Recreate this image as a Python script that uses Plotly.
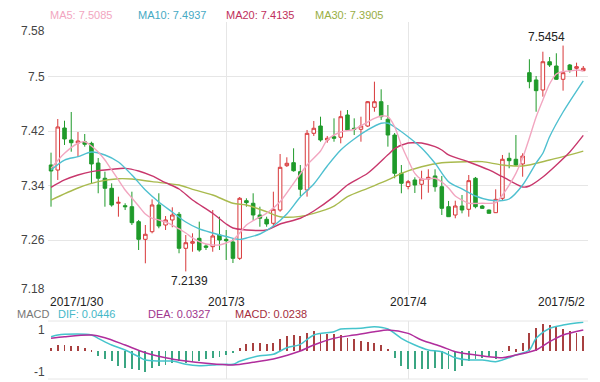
import plotly.graph_objects as go

# ---------------- data ----------------
idx = list(range(80))
tick_idx = [0, 26, 53, 79]
tick_text = ["2017/1/30", "2017/3", "2017/4", "2017/5/2"]
price_ticks = [7.18, 7.26, 7.34, 7.42, 7.5, 7.58]

open_ = [7.3701, 7.3627, 7.4244, 7.4068, 7.4024, 7.4043, 7.4019, 7.3730, 7.3506, 7.3359,
         7.3139, 7.3104, 7.3089, 7.2869, 7.2610, 7.2722, 7.3114, 7.2820, 7.2894, 7.2977,
         7.2478, 7.2552, 7.2625, 7.2512, 7.2502, 7.2673, 7.2610, 7.2571, 7.2331, 7.3177,
         7.3139, 7.2967, 7.2904, 7.2845, 7.3040, 7.3691, 7.3735, 7.3603, 7.3334, 7.4166,
         7.4273, 7.4068, 7.4116, 7.4108, 7.4435, 7.4240, 7.4225, 7.4273, 7.4548, 7.4630,
         7.4372, 7.4141, 7.3579, 7.3385, 7.3481, 7.3418, 7.3495, 7.3540, 7.3382, 7.3089,
         7.2967, 7.3099, 7.3051, 7.3506, 7.3099, 7.3040, 7.3001, 7.3212, 7.3799, 7.3785,
         7.3716, 7.5056, 7.4949, 7.4802, 7.5217, 7.5154, 7.4959, 7.5169, 7.5120, 7.5085]
close = [7.3613, 7.4259, 7.4083, 7.4028, 7.4053, 7.4005, 7.3716, 7.3506, 7.3359, 7.3114,
         7.3153, 7.3089, 7.2854, 7.2610, 7.2684, 7.3114, 7.2806, 7.2894, 7.2967, 7.2478,
         7.2560, 7.2575, 7.2453, 7.2493, 7.2659, 7.2600, 7.2590, 7.2331, 7.3212, 7.3148,
         7.2967, 7.2919, 7.2835, 7.3051, 7.3667, 7.3726, 7.3617, 7.3344, 7.4166, 7.4240,
         7.4068, 7.4093, 7.4093, 7.4410, 7.4215, 7.4225, 7.4273, 7.4630, 7.4630, 7.4410,
         7.4141, 7.3579, 7.3432, 7.3456, 7.3407, 7.3495, 7.3520, 7.3382, 7.3065, 7.2942,
         7.3099, 7.3040, 7.3471, 7.3089, 7.3065, 7.2992, 7.3197, 7.3785, 7.3764, 7.3701,
         7.3833, 7.4924, 7.4792, 7.5217, 7.5169, 7.4959, 7.5056, 7.5095, 7.5144, 7.5120]
high = [7.3882, 7.4376, 7.4351, 7.4479, 7.4185, 7.4156, 7.4043, 7.3804, 7.3603, 7.3432,
        7.3236, 7.3139, 7.3309, 7.2894, 7.2820, 7.3197, 7.3286, 7.2952, 7.3080, 7.3011,
        7.2673, 7.2698, 7.2869, 7.2537, 7.3040, 7.2942, 7.2747, 7.2615, 7.3231, 7.3212,
        7.3286, 7.3089, 7.2942, 7.3309, 7.3862, 7.3814, 7.3946, 7.3701, 7.4215, 7.4347,
        7.4410, 7.4127, 7.4386, 7.4498, 7.4508, 7.4386, 7.4410, 7.4640, 7.4924, 7.4812,
        7.4582, 7.4171, 7.3701, 7.3481, 7.3520, 7.3617, 7.3638, 7.3638, 7.3540, 7.3173,
        7.3177, 7.3261, 7.3554, 7.3525, 7.3114, 7.3048, 7.3344, 7.3848, 7.3882, 7.4141,
        7.3873, 7.5253, 7.5007, 7.5364, 7.5286, 7.5341, 7.5454, 7.5184, 7.5203, 7.5154]
low = [7.3089, 7.3481, 7.3995, 7.3896, 7.3818, 7.3970, 7.3437, 7.3286, 7.3089, 7.3089,
       7.2942, 7.3040, 7.2820, 7.2453, 7.2258, 7.2698, 7.2772, 7.2747, 7.2787, 7.2405,
       7.2139, 7.2428, 7.2428, 7.2453, 7.2428, 7.2453, 7.2307, 7.2262, 7.2307, 7.3089,
       7.2894, 7.2795, 7.2795, 7.2791, 7.3015, 7.3672, 7.3603, 7.3246, 7.3236, 7.4127,
       7.4043, 7.4028, 7.4043, 7.4019, 7.4200, 7.4141, 7.4043, 7.4259, 7.4483, 7.4362,
       7.3970, 7.3506, 7.3286, 7.3344, 7.3290, 7.3197, 7.3294, 7.3309, 7.2967, 7.2938,
       7.2919, 7.2992, 7.2942, 7.3065, 7.3055, 7.2989, 7.2996, 7.3187, 7.3653, 7.3686,
       7.3529, 7.4827, 7.4483, 7.4704, 7.5140, 7.4949, 7.4792, 7.5056, 7.4997, 7.5081]

ma5_idx = [0, 2, 4, 5, 6, 7, 8, 9, 10, 11, 12, 13, 14, 15, 16, 17, 18, 19, 20, 21, 22, 23, 24, 25,
           26, 27, 28, 29, 30, 32, 34, 36, 38, 40, 41, 43, 45, 47, 48, 49, 50, 51, 52, 53, 54, 55,
           57, 58, 59, 60, 61, 62, 64, 66, 67, 68, 69, 70, 71, 72, 73, 74, 75, 76, 77, 78, 79]
ma5_val = [7.3652, 7.3873, 7.4020, 7.4043, 7.3980, 7.3892, 7.3774, 7.3628, 7.3481, 7.3334, 7.3217,
           7.3099, 7.2982, 7.2919, 7.2894, 7.2864, 7.2820, 7.2762, 7.2703, 7.2630, 7.2575, 7.2541,
           7.2527, 7.2527, 7.2556, 7.2600, 7.2703, 7.2820, 7.2883, 7.2992, 7.3162, 7.3432, 7.3701,
           7.3907, 7.4068, 7.4185, 7.4225, 7.4332, 7.4386, 7.4420, 7.4410, 7.4263, 7.3995, 7.3774,
           7.3579, 7.3495, 7.3506, 7.3451, 7.3363, 7.3246, 7.3187, 7.3139, 7.3139, 7.3148, 7.3261,
           7.3407, 7.3579, 7.3804, 7.4097, 7.4406, 7.4655, 7.4890, 7.5037, 7.5073, 7.5081, 7.5095,
           7.5085]

ma10_idx = [0, 2, 4, 6, 8, 10, 12, 14, 16, 18, 20, 22, 24, 26, 28, 29, 31, 33, 35, 37, 39, 41, 43,
            45, 47, 49, 50, 51, 53, 55, 57, 59, 61, 63, 65, 67, 68, 70, 72, 73, 74, 76, 79]
ma10_val = [7.3628, 7.3774, 7.3823, 7.3892, 7.3848, 7.3745, 7.3554, 7.3334, 7.3158, 7.3011, 7.2864,
            7.2762, 7.2703, 7.2651, 7.2607, 7.2629, 7.2688, 7.2806, 7.2982, 7.3231, 7.3422, 7.3686,
            7.3921, 7.4083, 7.4215, 7.4313, 7.4313, 7.4259, 7.4116, 7.3951, 7.3726, 7.3456, 7.3349,
            7.3246, 7.3187, 7.3180, 7.3202, 7.3407, 7.3730, 7.3873, 7.4116, 7.4479, 7.4937]

ma20_idx = [0, 2, 4, 6, 9, 11, 13, 15, 17, 19, 21, 24, 26, 27, 29, 32, 34, 37, 39, 42, 44, 47, 50,
            51, 53, 54, 55, 57, 58, 59, 62, 65, 67, 70, 71, 73, 75, 77, 79]
ma20_val = [7.3374, 7.3481, 7.3554, 7.3603, 7.3638, 7.3652, 7.3613, 7.3540, 7.3441, 7.3349, 7.3187,
            7.2992, 7.2835, 7.2776, 7.2747, 7.2747, 7.2835, 7.2919, 7.3026, 7.3236, 7.3407, 7.3579,
            7.3850, 7.3940, 7.4024, 7.4028, 7.4024, 7.3970, 7.3921, 7.3848, 7.3745, 7.3628, 7.3529,
            7.3378, 7.3393, 7.3525, 7.3701, 7.3892, 7.4135]

ma30_idx = [0, 4, 7, 10, 12, 15, 19, 21, 24, 27, 29, 32, 34, 37, 39, 42, 44, 47, 50, 52, 55, 58,
            62, 64, 67, 70, 74, 79]
ma30_val = [7.3187, 7.3363, 7.3456, 7.3500, 7.3495, 7.3456, 7.3407, 7.3344, 7.3261, 7.3139, 7.3114,
            7.3015, 7.2942, 7.2947, 7.2992, 7.3099, 7.3236, 7.3359, 7.3481, 7.3579, 7.3676, 7.3735,
            7.3750, 7.3750, 7.3701, 7.3686, 7.3774, 7.3905]

macd_hist = [0.0051, 0.0089, 0.0089, 0.0078, 0.0078, 0.0051, 0.0005, -0.0078, -0.0120, -0.0156,
             -0.0233, -0.0260, -0.0285, -0.0295, -0.0327, -0.0260, -0.0233, -0.0222, -0.0182, -0.0156,
             -0.0182, -0.0171, -0.0156, -0.0129, -0.0104, -0.0089, -0.0067, -0.0026, 0.0051, 0.0104,
             0.0120, 0.0120, 0.0104, 0.0129, 0.0182, 0.0233, 0.0244, 0.0233, 0.0285, 0.0311,
             0.0285, 0.0260, 0.0260, 0.0244, 0.0207, 0.0191, 0.0156, 0.0140, 0.0129, 0.0089,
             0.0036, -0.0104, -0.0233, -0.0275, -0.0285, -0.0285, -0.0285, -0.0260, -0.0275, -0.0285,
             -0.0311, -0.0233, -0.0156, -0.0129, -0.0104, -0.0078, -0.0120, -0.0010, 0.0078, 0.0030,
             0.0129, 0.0285, 0.0362, 0.0415, 0.0400, 0.0389, 0.0337, 0.0311, 0.0285, 0.0238]

dif_idx = [0, 1, 2, 6, 7, 9, 11, 13, 14, 16, 18, 20, 22, 24, 26, 27, 28, 31, 33, 35, 37, 39, 42,
           43, 46, 48, 50, 52, 54, 56, 58, 60, 62, 64, 66, 67, 69, 71, 72, 74, 76, 79]
dif_val = [0.0222, 0.0249, 0.0260, 0.0249, 0.0198, 0.0093, 0.0016, -0.0088, -0.0140, -0.0156,
           -0.0156, -0.0207, -0.0229, -0.0218, -0.0207, -0.0207, -0.0160, -0.0073, -0.0051, 0.0051,
           0.0104, 0.0249, 0.0300, 0.0342, 0.0353, 0.0378, 0.0342, 0.0198, 0.0093, 0.0016,
           -0.0011, -0.0104, -0.0140, -0.0140, -0.0166, -0.0140, -0.0062, 0.0016, 0.0198, 0.0353,
           0.0404, 0.0446]

dea_idx = [0, 2, 6, 8, 11, 14, 17, 20, 23, 27, 30, 33, 36, 37, 39, 42, 45, 48, 50, 53, 55, 58,
           60, 63, 65, 67, 69, 72, 74, 76, 79]
dea_val = [0.0198, 0.0222, 0.0249, 0.0207, 0.0093, -0.0026, -0.0104, -0.0156, -0.0191, -0.0218,
           -0.0176, -0.0124, -0.0036, 0.0000, 0.0093, 0.0198, 0.0249, 0.0300, 0.0327, 0.0275,
           0.0171, 0.0067, -0.0011, -0.0062, -0.0089, -0.0104, -0.0062, 0.0016, 0.0145, 0.0249,
           0.0327]

macd_ticks = [0.0327, -0.0327]
macd_tick_text = ["1", "-1"]

# ---------------- styling ----------------
FONT = "Arial, Liberation Sans, sans-serif"
GRID = "#e6e6e6"
UP = "#d8383a"
DOWN = "#1f9a2a"
C_MA5, C_MA10, C_MA20, C_MA30 = "#f2a6c0", "#4fc0d0", "#c8376c", "#a9ba4e"
C_DIF, C_DEA = "#45c4cc", "#b02d9c"
C_POS, C_NEG = "#a84040", "#3aa682"

fig = go.Figure()

fig.add_trace(go.Candlestick(
    x=idx, open=open_, high=high, low=low, close=close,
    increasing=dict(line=dict(color=UP, width=1), fillcolor="white"),
    decreasing=dict(line=dict(color=DOWN, width=1), fillcolor=DOWN),
    whiskerwidth=0, xaxis="x", yaxis="y", hoverinfo="skip"))

for xs, ys, col in [(ma30_idx, ma30_val, C_MA30), (ma20_idx, ma20_val, C_MA20),
                    (ma10_idx, ma10_val, C_MA10), (ma5_idx, ma5_val, C_MA5)]:
    fig.add_trace(go.Scatter(x=xs, y=ys, mode="lines",
                             line=dict(color=col, width=1.4, shape="spline", smoothing=0.8),
                             xaxis="x", yaxis="y", hoverinfo="skip"))

fig.add_trace(go.Bar(x=idx, y=macd_hist, width=0.13,
                     marker=dict(color=[C_POS if v >= 0 else C_NEG for v in macd_hist], line=dict(width=0)),
                     xaxis="x2", yaxis="y2", hoverinfo="skip"))
fig.add_trace(go.Scatter(x=dif_idx, y=dif_val, mode="lines",
                         line=dict(color=C_DIF, width=1.5, shape="spline", smoothing=0.8),
                         xaxis="x2", yaxis="y2", hoverinfo="skip"))
fig.add_trace(go.Scatter(x=dea_idx, y=dea_val, mode="lines",
                         line=dict(color=C_DEA, width=1.5, shape="spline", smoothing=0.8),
                         xaxis="x2", yaxis="y2", hoverinfo="skip"))

XDOM = [48 / 600, 588 / 600]
XR = [-0.45, 79.7]
H = 382.0

def py(pix):
    return 1 - pix / H

annotations = []
# price tick labels
shift = {7.58: -8.5, 7.18: 6}
for v in price_ticks:
    annotations.append(dict(x=47 / 600, xref="paper", y=v, yref="y", text=f"{v:g}",
                            showarrow=False, xanchor="right", yanchor="middle",
                            yshift=shift.get(v, 0), font=dict(family=FONT, size=12, color="#444")))
# macd tick labels
for v, t in zip(macd_ticks, macd_tick_text):
    annotations.append(dict(x=47 / 600, xref="paper", y=v, yref="y2", text=t,
                            showarrow=False, xanchor="right", yanchor="middle",
                            font=dict(family=FONT, size=12, color="#444")))
# date labels
anchors = ["left", "center", "center", "right"]
xsh = [-3, 0, 0, 4]
for i, t, a, s in zip(tick_idx, tick_text, anchors, xsh):
    annotations.append(dict(x=i, xref="x", y=py(302), yref="paper", text=t, showarrow=False,
                            xanchor=a, yanchor="middle", xshift=s,
                            font=dict(family=FONT, size=12, color="#222")))
# legend-like labels
for txt, xpix, col in [(f"MA5: {ma5_val[-1]:.4f}", 48, C_MA5), (f"MA10: {ma10_val[-1]:.4f}", 136, "#46aac4"),
                       (f"MA20: {ma20_val[-1]:.4f}", 224, "#c0305c"), (f"MA30: {ma30_val[-1]:.4f}", 313, "#98ae44")]:
    annotations.append(dict(x=xpix / 600, xref="paper", y=py(15), yref="paper", text=txt,
                            showarrow=False, xanchor="left", yanchor="middle",
                            font=dict(family=FONT, size=11, color=col)))
for txt, xpix, col in [("MACD", 15, "#777777"), (f"DIF: {dif_val[-1]:.4f}", 56, "#45b8c8"),
                       (f"DEA: {dea_val[-1]:.4f}", 146, "#a0368e"), (f"MACD: {macd_hist[-1]:.4f}", 233, "#a42c3c")]:
    annotations.append(dict(x=xpix / 600, xref="paper", y=py(313.5), yref="paper", text=txt,
                            showarrow=False, xanchor="left", yanchor="middle",
                            font=dict(family=FONT, size=11, color=col)))
# high / low marks
hi_i = max(idx, key=lambda i: high[i])
lo_i = min(idx, key=lambda i: low[i])
annotations.append(dict(x=hi_i, xref="x", y=high[hi_i], yref="y", text=f"{high[hi_i]:.4f}",
                        showarrow=False, xanchor="right", yanchor="bottom", xshift=4, yshift=0,
                        font=dict(family=FONT, size=12, color="#222")))
annotations.append(dict(x=lo_i, xref="x", y=low[lo_i], yref="y", text=f"{low[lo_i]:.4f}",
                        showarrow=False, xanchor="center", yanchor="top", xshift=4, yshift=-1,
                        font=dict(family=FONT, size=12, color="#222")))

shapes = [
    dict(type="line", xref="paper", x0=XDOM[0], x1=XDOM[1], yref="y2 domain", y0=1, y1=1,
         line=dict(color=GRID, width=1)),
    dict(type="line", xref="paper", x0=XDOM[0], x1=XDOM[1], yref="y2 domain", y0=0, y1=0,
         line=dict(color=GRID, width=1)),
]

fig.update_layout(
    width=600, height=382, margin=dict(l=0, r=0, t=0, b=0),
    paper_bgcolor="white", plot_bgcolor="white", showlegend=False,
    bargap=0, boxgap=0.25,
    xaxis=dict(domain=XDOM, range=XR, tickvals=[26, 53], showticklabels=False, showgrid=True,
               gridcolor=GRID, zeroline=False, rangeslider=dict(visible=False), anchor="y",
               fixedrange=True, ticks=""),
    yaxis=dict(domain=[py(294.5), py(22)], range=[7.18, 7.58], tickvals=price_ticks,
               showticklabels=False, showgrid=True, gridcolor=GRID, zeroline=False, anchor="x",
               fixedrange=True, ticks=""),
    xaxis2=dict(domain=XDOM, range=XR, tickvals=[26, 53], showticklabels=False, showgrid=True,
                gridcolor=GRID, zeroline=False, anchor="y2", fixedrange=True, ticks=""),
    yaxis2=dict(domain=[py(379), py(321)], range=[-0.0435, 0.0467], showticklabels=False,
                showgrid=False, zeroline=False, anchor="x2", fixedrange=True, ticks=""),
    annotations=annotations, shapes=shapes,
)

fig.write_html("out.html", config={"displayModeBar": False},
               post_script="document.body.style.margin='0';document.body.style.padding='0';")
